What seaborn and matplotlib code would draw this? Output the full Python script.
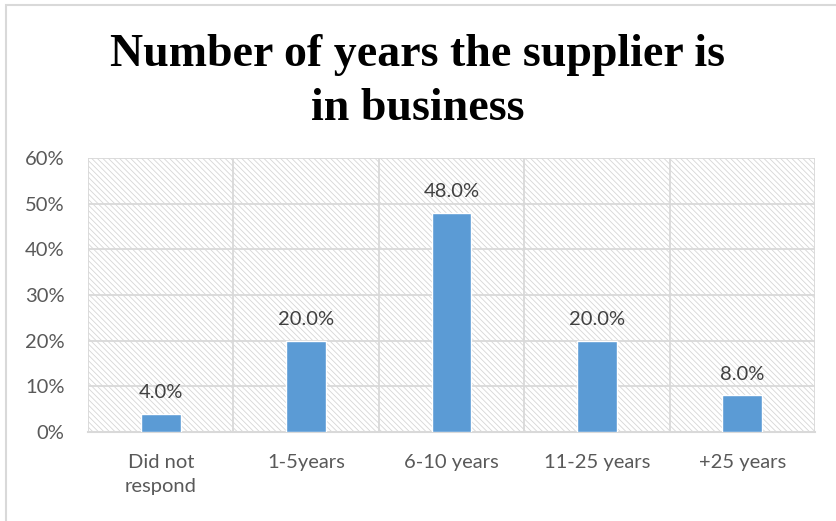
import matplotlib
matplotlib.use("Agg")
import matplotlib.pyplot as plt
import seaborn as sns
import pandas as pd
from matplotlib.patches import Rectangle

categories = ["Did not\nrespond", "1-5years", "6-10 years", "11-25 years", "+25 years"]
shares = [4.0, 20.0, 48.0, 20.0, 8.0]
y_ticks = [0, 10, 20, 30, 40, 50, 60]
y_tick_labels = ["0%", "10%", "20%", "30%", "40%", "50%", "60%"]
title = "Number of years the supplier is\nin business"

sns.set_theme(style="white")
plt.rcParams["font.family"] = ["Lato", "DejaVu Sans"]
plt.rcParams["hatch.linewidth"] = 0.6

df = pd.DataFrame({"category": categories, "share": shares})

fig = plt.figure(figsize=(8.36, 5.21), dpi=100)
ax = fig.add_axes([88 / 836, 1 - 432 / 521, (815 - 88) / 836, (432 - 158) / 521])

# hatched plot-area background
ax.patch.set_facecolor("white")
ax.patch.set_hatch("\\" * 6)
ax.patch.set_edgecolor("#d6d6d6")
ax.patch.set_linewidth(0)

sns.barplot(data=df, x="category", y="share", color="#5b9bd5", width=0.275,
            saturation=1, ax=ax, zorder=3)

ax.set_ylim(0, 60)
ax.set_xlim(-0.5, len(categories) - 0.5)
ax.set_yticks(y_ticks)
ax.set_yticklabels(y_tick_labels)
ax.set_xlabel("")
ax.set_ylabel("")

# grid: horizontal at ticks, vertical between categories
for y in y_ticks:
    ax.axhline(y, color="#d9d9d9", lw=1.3, zorder=1)
for i in range(len(categories) + 1):
    ax.axvline(i - 0.5, color="#d9d9d9", lw=1.3, zorder=1)

for s in ax.spines.values():
    s.set_visible(False)
ax.spines["bottom"].set_visible(True)
ax.spines["bottom"].set_color("#d9d9d9")
ax.spines["bottom"].set_linewidth(1.5)

ax.tick_params(axis="y", labelsize=14.5, colors="#595959", length=0, pad=17)
ax.tick_params(axis="x", labelsize=14.5, colors="#595959", length=0, pad=16)
for lab in ax.get_xticklabels():
    lab.set_linespacing(1.5)

for i, v in enumerate(shares):
    ax.annotate(f"{v:.1f}%", (i, v), xytext=(0, 9), textcoords="offset points",
                ha="center", va="bottom", fontsize=14.5, color="#404040")

fig.text(0.5, 1 - 82 / 521, title, ha="center", va="center",
         fontsize=33, fontweight="bold", family=["Liberation Serif"],
         color="black", linespacing=1.4)

# chart frame
fig.patches.append(Rectangle((6 / 836, -0.01), 1.0, 1 - 5 / 521 + 0.01,
                             transform=fig.transFigure, fill=False,
                             edgecolor="#d9d9d9", lw=1.5))

fig.savefig("out.png", dpi=100)
